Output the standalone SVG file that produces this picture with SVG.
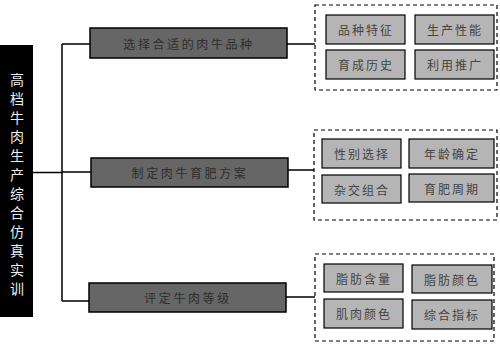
<svg xmlns="http://www.w3.org/2000/svg" width="500" height="345" viewBox="0 0 500 345">
<style>
.main{fill:#666666;stroke:#000;stroke-width:1.5}
.sub{fill:#b5b5b5;stroke:#000;stroke-width:1.2}
.grp{fill:none;stroke:#000;stroke-width:1.2;stroke-dasharray:4 3}
.mt{font-family:"Noto Sans CJK SC",sans-serif;font-size:12px;fill:#2e2e2e;letter-spacing:2.6px;text-anchor:middle;dominant-baseline:central}
.st{font-family:"Noto Sans CJK SC",sans-serif;font-size:12px;fill:#444;letter-spacing:2px;text-anchor:middle;dominant-baseline:central}
.lt{font-family:"Noto Sans CJK SC",sans-serif;font-size:14px;fill:#eee;text-anchor:middle;dominant-baseline:central}
.ln{stroke:#000;stroke-width:1.5;fill:none}
</style>
<rect width="500" height="345" fill="#fff"/>
<g id="connectors">
<path class="ln" d="M33 172.5H62M62 44V301M62 44H90M62 172H91M62 301H89"/>
<path class="ln" d="M287 44H315M288 170H314M286 297H315"/>
</g>
<g id="root">
<rect x="0" y="45" width="33" height="272" fill="#000"/>
<text class="lt" x="17" y="79">高</text>
<text class="lt" x="17" y="98">档</text>
<text class="lt" x="17" y="117">牛</text>
<text class="lt" x="17" y="136">肉</text>
<text class="lt" x="17" y="155">生</text>
<text class="lt" x="17" y="174">产</text>
<text class="lt" x="17" y="193">综</text>
<text class="lt" x="17" y="212">合</text>
<text class="lt" x="17" y="231">仿</text>
<text class="lt" x="17" y="250">真</text>
<text class="lt" x="17" y="269">实</text>
<text class="lt" x="17" y="288">训</text>
</g>
<g id="node1">
<rect class="main" x="90" y="28" width="197" height="30"/>
<text class="mt" x="189" y="43">选择合适的肉牛品种</text>
</g>
<g id="group1">
<rect class="grp" x="315" y="5" width="182" height="85"/>
<rect class="sub" x="326" y="15" width="79" height="29"/>
<text class="st" x="366" y="29.5">品种特征</text>
<rect class="sub" x="415" y="15" width="79" height="29"/>
<text class="st" x="455" y="29.5">生产性能</text>
<rect class="sub" x="326" y="50" width="79" height="29"/>
<text class="st" x="366" y="64.5">育成历史</text>
<rect class="sub" x="415" y="50" width="79" height="29"/>
<text class="st" x="455" y="64.5">利用推广</text>
</g>
<g id="node2">
<rect class="main" x="91" y="158" width="197" height="29"/>
<text class="mt" x="190" y="172.5">制定肉牛育肥方案</text>
</g>
<g id="group2">
<rect class="grp" x="314" y="130" width="183" height="90"/>
<rect class="sub" x="322" y="139" width="79" height="29"/>
<text class="st" x="362" y="153.5">性别选择</text>
<rect class="sub" x="409" y="139" width="85" height="29"/>
<text class="st" x="452" y="153.5">年龄确定</text>
<rect class="sub" x="322" y="175" width="79" height="28"/>
<text class="st" x="362" y="189">杂交组合</text>
<rect class="sub" x="409" y="174" width="85" height="28"/>
<text class="st" x="452" y="188">育肥周期</text>
</g>
<g id="node3">
<rect class="main" x="89" y="283" width="197" height="29"/>
<text class="mt" x="188" y="297.5">评定牛肉等级</text>
</g>
<g id="group3">
<rect class="grp" x="315" y="254" width="179" height="87"/>
<rect class="sub" x="324" y="264" width="79" height="28"/>
<text class="st" x="364" y="278">脂肪含量</text>
<rect class="sub" x="412" y="265" width="80" height="28"/>
<text class="st" x="452" y="279">脂肪颜色</text>
<rect class="sub" x="324" y="299" width="79" height="29"/>
<text class="st" x="364" y="313.5">肌肉颜色</text>
<rect class="sub" x="412" y="300" width="80" height="29"/>
<text class="st" x="452" y="314.5">综合指标</text>
</g>
</svg>
